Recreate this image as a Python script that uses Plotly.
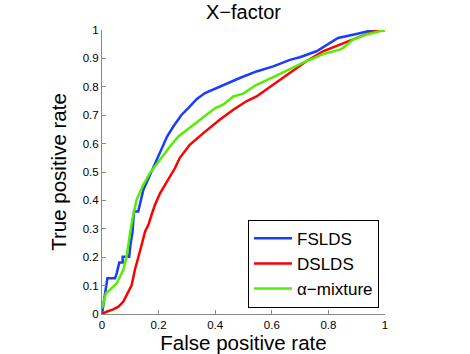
import plotly.graph_objects as go

fsl_x = [0, 0.011, 0.019, 0.046, 0.052, 0.061, 0.073, 0.073, 0.096, 0.100, 0.108, 0.113, 0.128, 0.146, 0.169,
         0.19, 0.21, 0.23, 0.252, 0.28, 0.31, 0.335, 0.364, 0.395, 0.428, 0.487, 0.546, 0.605, 0.664, 0.699,
         0.758, 0.80, 0.834, 0.899, 0.958, 1.0]
fsl_y = [0, 0.067, 0.126, 0.126, 0.143, 0.181, 0.181, 0.202, 0.202, 0.24, 0.29, 0.361, 0.361, 0.437, 0.49,
         0.535, 0.58, 0.625, 0.66, 0.70, 0.73, 0.757, 0.778, 0.792, 0.805, 0.831, 0.854, 0.872, 0.895, 0.904,
         0.925, 0.95, 0.972, 0.986, 1.0, 1.0]

dsl_x = [0, 0.016, 0.04, 0.058, 0.075, 0.087, 0.105, 0.116, 0.128, 0.14, 0.152, 0.164, 0.175, 0.187, 0.205,
         0.222, 0.24, 0.258, 0.275, 0.31, 0.358, 0.416, 0.464, 0.51, 0.546, 0.605, 0.664, 0.722, 0.781, 0.84,
         0.899, 0.958, 1.0]
dsl_y = [0, 0.008, 0.016, 0.026, 0.043, 0.067, 0.102, 0.155, 0.196, 0.243, 0.29, 0.314, 0.349, 0.384, 0.425,
         0.455, 0.484, 0.514, 0.55, 0.596, 0.637, 0.684, 0.719, 0.749, 0.766, 0.807, 0.848, 0.89, 0.925, 0.948,
         0.972, 0.995, 1.0]

mix_x = [0, 0.014, 0.028, 0.052, 0.075, 0.087, 0.099, 0.108, 0.122, 0.146, 0.169, 0.199, 0.24, 0.27, 0.31,
         0.364, 0.40, 0.428, 0.464, 0.499, 0.546, 0.605, 0.664, 0.722, 0.781, 0.84, 0.852, 0.887, 0.934, 1.0]
mix_y = [0.02, 0.073, 0.085, 0.108, 0.155, 0.202, 0.284, 0.337, 0.402, 0.455, 0.496, 0.537, 0.59, 0.625, 0.655,
         0.696, 0.725, 0.737, 0.766, 0.776, 0.807, 0.834, 0.863, 0.89, 0.915, 0.931, 0.937, 0.966, 0.984, 1.0]

x_ticks = [0, 0.2, 0.4, 0.6, 0.8, 1]
x_tick_text = ["0", "0.2", "0.4", "0.6", "0.8", "1"]
y_ticks = [0, 0.1, 0.2, 0.3, 0.4, 0.5, 0.6, 0.7, 0.8, 0.9, 1]
y_tick_text = ["0", "0.1", "0.2", "0.3", "0.4", "0.5", "0.6", "0.7", "0.8", "0.9", "1"]

fig = go.Figure()
fig.add_trace(go.Scatter(x=fsl_x, y=fsl_y, mode="lines", name="FSLDS",
                         line=dict(color="#1a3cff", width=2.5), cliponaxis=False))
fig.add_trace(go.Scatter(x=dsl_x, y=dsl_y, mode="lines", name="DSLDS",
                         line=dict(color="#ff0000", width=2.5), cliponaxis=False))
fig.add_trace(go.Scatter(x=mix_x, y=mix_y, mode="lines", name="α−mixture",
                         line=dict(color="#55ee00", width=2.5), cliponaxis=False))

font = "Liberation Sans, Arial, Helvetica, sans-serif"
fig.update_layout(
    width=470, height=354,
    margin=dict(l=102, r=85, t=30, b=40, autoexpand=False),
    paper_bgcolor="white", plot_bgcolor="white",
    font=dict(family=font, color="black", size=12),
    title=dict(text="X−factor", x=(102 + 141.5) / 470, xanchor="center",
               y=1 - 12 / 354, yanchor="middle", yref="container",
               font=dict(size=20, color="black")),
    showlegend=True,
    legend=dict(x=0.516, y=0.022, xanchor="left", yanchor="bottom",
                bordercolor="black", borderwidth=1, bgcolor="white",
                font=dict(size=17), itemwidth=38, tracegroupgap=0),
)
fig.update_xaxes(range=[0, 1], tickvals=x_ticks, ticktext=x_tick_text, automargin=False,
                 showgrid=False, zeroline=False, showline=True, linecolor="#888888", linewidth=1,
                 ticks="inside", ticklen=4, tickcolor="#888888",
                 title=dict(text="False positive rate", font=dict(size=20.5), standoff=2),
                 tickfont=dict(size=11.5))
fig.update_yaxes(range=[0, 1], tickvals=y_ticks, ticktext=y_tick_text, automargin=False,
                 showgrid=False, zeroline=False, showline=True, linecolor="#888888", linewidth=1,
                 ticks="inside", ticklen=4, tickcolor="#888888",
                 title=dict(text="True positive rate", font=dict(size=20.5), standoff=10),
                 tickfont=dict(size=11.5))

fig.write_html("out.html", config={"displayModeBar": False},
               post_script="document.body.style.margin='0';")
